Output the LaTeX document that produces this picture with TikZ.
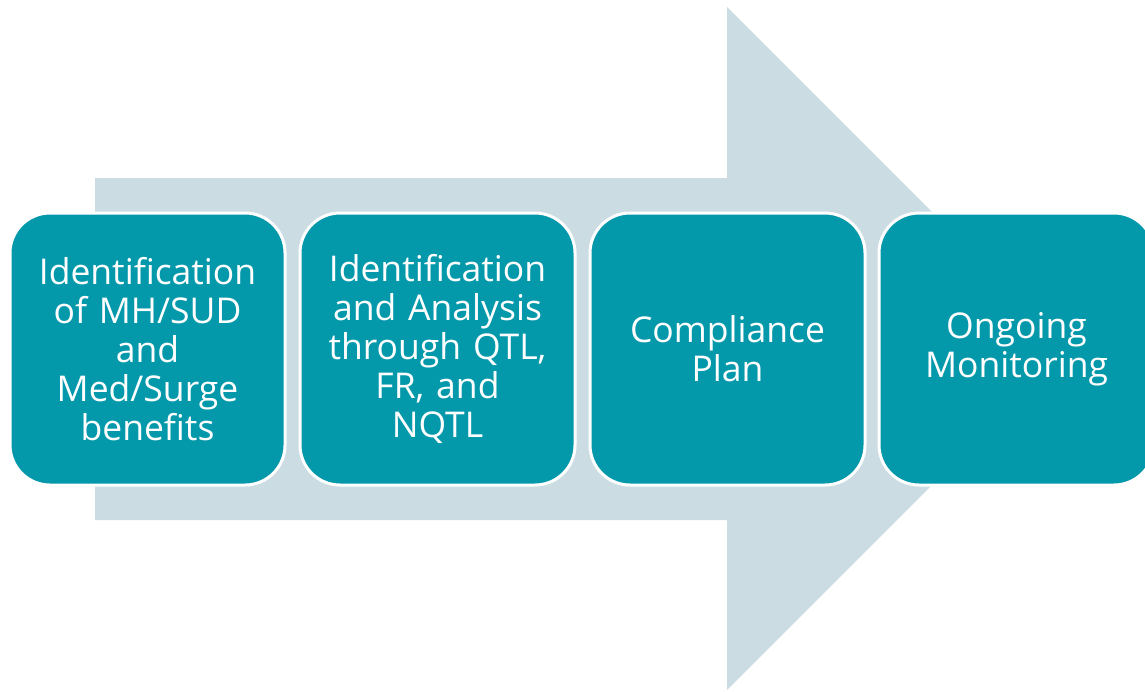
\documentclass[tikz,border=0pt]{standalone}
\usepackage{fontspec}
\setmainfont{Open Sans}
\definecolor{stepteal}{RGB}{3,152,170}
\definecolor{arrowgrey}{RGB}{203,221,227}
\begin{document}
\begin{tikzpicture}[x=1pt,y=-1pt,
  stepbox/.style={rectangle, rounded corners=40pt, fill=stepteal, draw=white,
    line width=3pt, minimum width=275pt, minimum height=272pt, inner sep=0pt,
    text=white, align=center, text width=260pt,
    font=\fontsize{35.5}{39}\selectfont}]
  \useasboundingbox (0,0) rectangle (1145,691);
  \clip (0,0) rectangle (1145,691);
  % background block arrow
  \fill[arrowgrey] (95,178) -- (727,178) -- (727,7) -- (1068.5,348.5)
    -- (727,690) -- (727,520) -- (95,520) -- cycle;
  % process steps
  \node[stepbox] (s1) at (147.5,349) {Identification\\of MH/SUD\\and\\Med/Surge\\benefits};
  \node[stepbox] (s2) at (437.5,349) {Identification\\and Analysis\\through QTL,\\FR, and\\NQTL};
  \node[stepbox] (s3) at (727.5,349) {Compliance\\Plan};
  \node[stepbox] (s4) at (1016.5,349) {Ongoing\\Monitoring};
\end{tikzpicture}
\end{document}
